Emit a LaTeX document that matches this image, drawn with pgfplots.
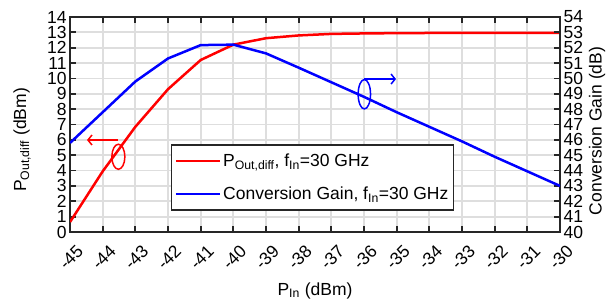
\documentclass[border=0pt]{standalone}
\usepackage{pgfplots}
\pgfplotsset{compat=1.18}
\usetikzlibrary{arrows.meta}
\usepackage{fontspec}
\setmainfont{Liberation Sans}
\newcommand{\fs}{\fontsize{17.5}{20}\selectfont}
\definecolor{axc}{RGB}{38,38,38}
\definecolor{gridc}{RGB}{222,222,222}

\pgfplotstableread{
x y
-45 0.65
-44 3.95
-43 6.85
-42 9.30
-41 11.20
-40 12.20
-39 12.62
-38 12.80
-37 12.90
-36 12.93
-35 12.95
-34 12.96
-33 12.96
-32 12.96
-31 12.96
-30 12.96
}\pout

\pgfplotstableread{
x y
-45 45.80
-44 47.80
-43 49.80
-42 51.30
-41 52.17
-40 52.20
-39 51.63
-38 50.70
-37 49.75
-36 48.80
-35 47.80
-34 46.85
-33 45.90
-32 44.90
-31 43.95
-30 43.00
}\gain

\begin{document}
\begin{tikzpicture}
\pgfplotsset{
  every axis/.append style={
    width=490pt, height=215pt, scale only axis,
    xmin=-45, xmax=-30,
    /pgf/number format/assume math mode=true,
    tick label style={font=\fs},
    label style={font=\fs},
    axis line style={line width=1.8pt, axc},
    major tick length=6pt,
    every tick/.style={line width=1.8pt, axc},
    tick align=inside,
  }
}
\begin{axis}[
  ymin=0, ymax=14,
  xtick={-45,-44,...,-30}, ytick={0,1,...,14},
  ytick pos=left,
  grid=major, major grid style={line width=1.8pt, gridc},
  xticklabel style={yshift=-25pt, xshift=1pt, rotate=45, anchor=center},
  xlabel={P\textsubscript{In} (dBm)},
  xlabel style={at={(rel axis cs:0.5,-0.273)}, anchor=center},
  ylabel={P\textsubscript{Out,diff} (dBm)},
  ylabel style={at={(rel axis cs:-0.098,0.428)}, anchor=center},
]
\addplot[red, line width=2.5pt, line join=round] table[x=x,y=y] {\pout};
\draw[red, line width=1.5pt] (axis cs:-43.52,4.90) ellipse [x radius=6.5pt, y radius=12.5pt];
\draw[red, line width=1.5pt, -{Straight Barb[length=4pt,width=10pt]}] (axis cs:-43.53,5.99) -- (axis cs:-44.48,5.99);
\draw[blue, line width=1.5pt] (axis cs:-35.99,8.97) ellipse [x radius=6.2pt, y radius=14.7pt];
\draw[blue, line width=1.5pt, -{Straight Barb[length=4pt,width=10pt]}] (axis cs:-36.0,9.96) -- (axis cs:-35.02,9.96);
\coordinate (bbSW) at (rel axis cs:-0.1429,-0.3163);
\coordinate (bbNE) at (rel axis cs:1.1061,1.0791);
\end{axis}
\begin{axis}[
  ymin=40, ymax=54, ytick={40,41,...,54},
  axis y line*=right, axis x line=none,
  ylabel={Conversion Gain (dB)},
  ylabel style={at={(rel axis cs:1.0755,0.47)}, anchor=center},
  legend style={at={(rel axis cs:0.206,0.409)}, anchor=north west, draw=axc, line width=1.5pt, fill=white, font=\fs, row sep=15pt, inner xsep=3pt, inner ysep=7pt, cells={anchor=west}},
  legend image code/.code={\draw[#1] (0pt,0pt) -- (44pt,0pt);},
]
\addlegendimage{red, line width=2.5pt}
\addlegendentry{P\textsubscript{Out,diff}, f\textsubscript{In}=30 GHz}
\addplot[blue, line width=2.5pt, line join=round] table[x=x,y=y] {\gain};
\addlegendentry{Conversion Gain, f\textsubscript{In}=30 GHz}
\end{axis}
\pgfresetboundingbox
\path[use as bounding box] (bbSW) rectangle (bbNE);
\end{tikzpicture}
\end{document}
